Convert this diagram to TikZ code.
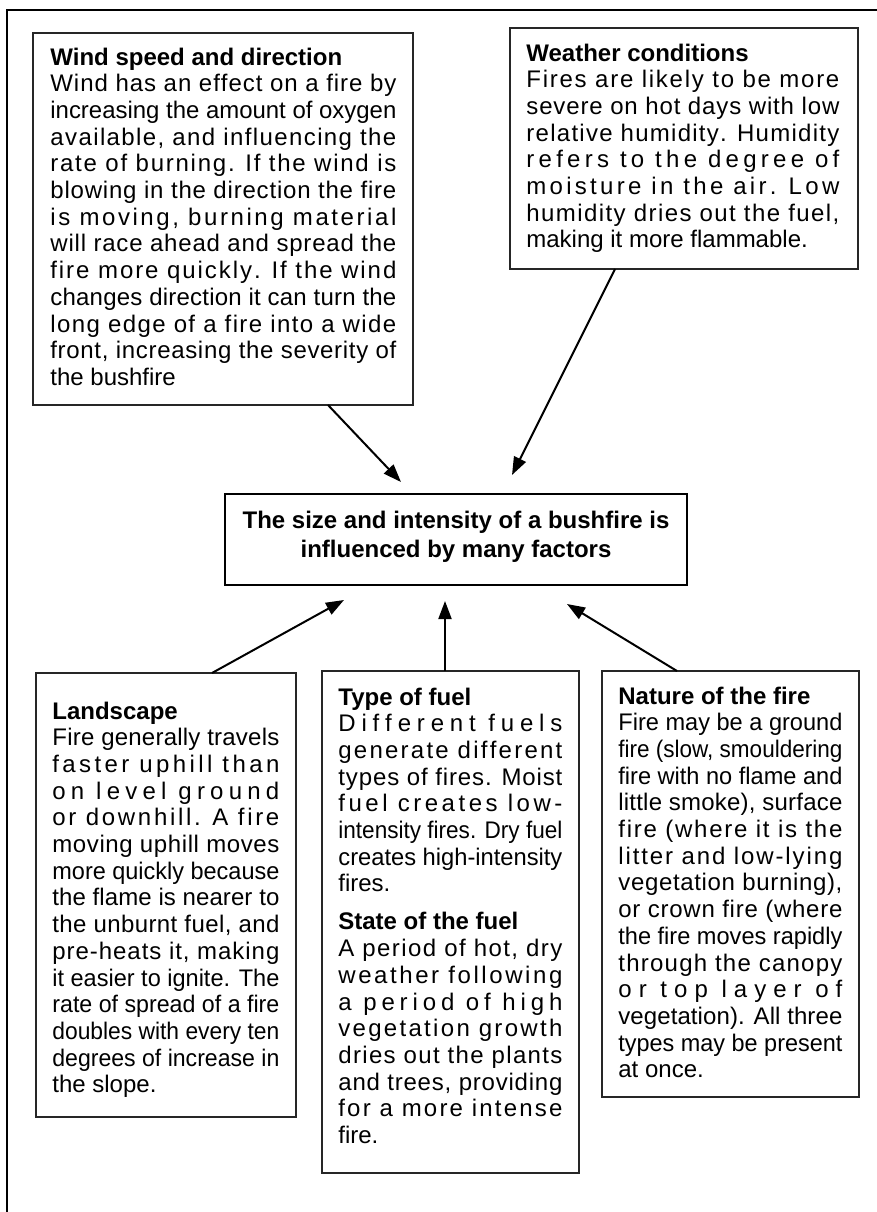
\documentclass[tikz,border=0pt]{standalone}
\usepackage{fontspec}
\setmainfont{Liberation Sans}
\usepackage{graphicx}
\usetikzlibrary{arrows.meta,fit}
\makeatletter
\newsavebox\LSbox
\newcommand\LSword[1]{\@tfor\LS@c:=#1\do{\LS@c\hskip0pt plus 1fil\relax}}
\def\LSloop#1 #2\LSend{\LSword{#1}\ifx\relax#2\relax\else\space\LSloop#2\LSend\fi}
\newcommand\J[1]{\sbox\LSbox{#1}\ifdim\wd\LSbox>\linewidth\resizebox{\linewidth}{\ht\LSbox}{\usebox\LSbox}\else\makebox[\linewidth][s]{\LSloop#1 \LSend\hskip0pt plus -1fil\relax}\fi\par}
\newcommand\JL[1]{\sbox\LSbox{#1}\ifdim\wd\LSbox>\linewidth\resizebox{\linewidth}{\ht\LSbox}{\usebox\LSbox}\else\usebox\LSbox\fi\par}
\newcommand\HD[1]{{\bfseries #1}\par}
\newenvironment{boxtext}[1]{\begin{minipage}[t]{#1}\fontsize{12pt}{13.35pt}\selectfont\parindent0pt\parskip0pt}{\end{minipage}}
\makeatother
\tikzset{
  box/.style={draw=black!85, line width=0.75pt, inner sep=0pt},
  mainbox/.style={draw=black, line width=1.3pt, inner sep=0pt},
  txt/.style={anchor=base west, inner sep=0pt},
  arr/.style={line width=1pt, -{Triangle[length=9pt,width=6.5pt]}},
  frame/.style={line width=1.3pt}
}
\begin{document}
\begin{tikzpicture}[x=0.5pt,y=-0.5pt]
\useasboundingbox (0,0) rectangle (877,1212);
\fill[white] (0,0) rectangle (877,1212);
\draw[frame] (7,1230) -- (7,10) -- (890,10);

% boxes
\node[box, fit={(33,33) (413,405)}] (wind) {};
\node[box, fit={(510,28) (858,269)}] (weather) {};
\node[mainbox, fit={(225,494) (687,585)}] (center) {};
\node[box, fit={(36,673) (296,1117)}] (land) {};
\node[box, fit={(322,671) (579,1173)}] (fuel) {};
\node[box, fit={(602,671) (859,1097)}] (nature) {};

% texts
\node[txt] (windtxt) at (50,65) {\begin{boxtext}{173pt}
\HD{Wind speed and direction}
\J{Wind has an effect on a fire by}
\J{increasing the amount of oxygen}
\J{available, and influencing the}
\J{rate of burning. If the wind is}
\J{blowing in the direction the fire}
\J{is moving, burning material}
\J{will race ahead and spread the}
\J{fire more quickly. If the wind}
\J{changes direction it can turn the}
\J{long edge of a fire into a wide}
\J{front, increasing the severity of}
\JL{the bushfire}
\end{boxtext}};

\node[txt] (weathertxt) at (526,61) {\begin{boxtext}{156.5pt}
\HD{Weather conditions}
\J{Fires are likely to be more}
\J{severe on hot days with low}
\J{relative humidity. Humidity}
\J{refers to the degree of}
\J{moisture in the air. Low}
\J{humidity dries out the fuel,}
\JL{making it more flammable.}
\end{boxtext}};

\node[anchor=base, inner sep=0pt] (centertxt) at (456,528) {\begin{minipage}[t]{230pt}\centering\bfseries\fontsize{12pt}{14.5pt}\selectfont
The size and intensity of a bushfire is\\influenced by many factors
\end{minipage}};

\node[txt] (landtxt) at (52,719) {\begin{boxtext}{113.5pt}
\HD{Landscape}
\J{Fire generally travels}
\J{faster uphill than}
\J{on level ground}
\J{or downhill. A fire}
\J{moving uphill moves}
\J{more quickly because}
\J{the flame is nearer to}
\J{the unburnt fuel, and}
\J{pre-heats it, making}
\J{it easier to ignite. The}
\J{rate of spread of a fire}
\J{doubles with every ten}
\J{degrees of increase in}
\JL{the slope.}
\end{boxtext}};

\node[txt] (fueltxt) at (338,705) {\begin{boxtext}{112pt}
\HD{Type of fuel}
\J{Different fuels}
\J{generate different}
\J{types of fires. Moist}
\J{fuel creates low-}
\J{intensity fires. Dry fuel}
\J{creates high-intensity}
\JL{fires.}
\vspace{5.65pt}
\HD{State of the fuel}
\J{A period of hot, dry}
\J{weather following}
\J{a period of high}
\J{vegetation growth}
\J{dries out the plants}
\J{and trees, providing}
\J{for a more intense}
\JL{fire.}
\end{boxtext}};

\node[txt] (naturetxt) at (618,704) {\begin{boxtext}{112pt}
\HD{Nature of the fire}
\J{Fire may be a ground}
\J{fire (slow, smouldering}
\J{fire with no flame and}
\J{little smoke), surface}
\J{fire (where it is the}
\J{litter and low-lying}
\J{vegetation burning),}
\J{or crown fire (where}
\J{the fire moves rapidly}
\J{through the canopy}
\J{or top layer of}
\J{vegetation). All three}
\J{types may be present}
\JL{at once.}
\end{boxtext}};

% connector end points
\coordinate (s1) at (328,405);
\coordinate (t1) at (401,482);
\coordinate (s2) at (615,269);
\coordinate (t2) at (512,475);
\coordinate (s3) at (212,673);
\coordinate (t3) at (344,600);
\coordinate (s4) at (445,671);
\coordinate (t4) at (445,601);
\coordinate (s5) at (677,671);
\coordinate (t5) at (567,604);

\draw[arr] (s1) -- (t1);
\draw[arr] (s2) -- (t2);
\draw[arr] (s3) -- (t3);
\draw[arr] (s4) -- (t4);
\draw[arr] (s5) -- (t5);
\end{tikzpicture}
\end{document}
